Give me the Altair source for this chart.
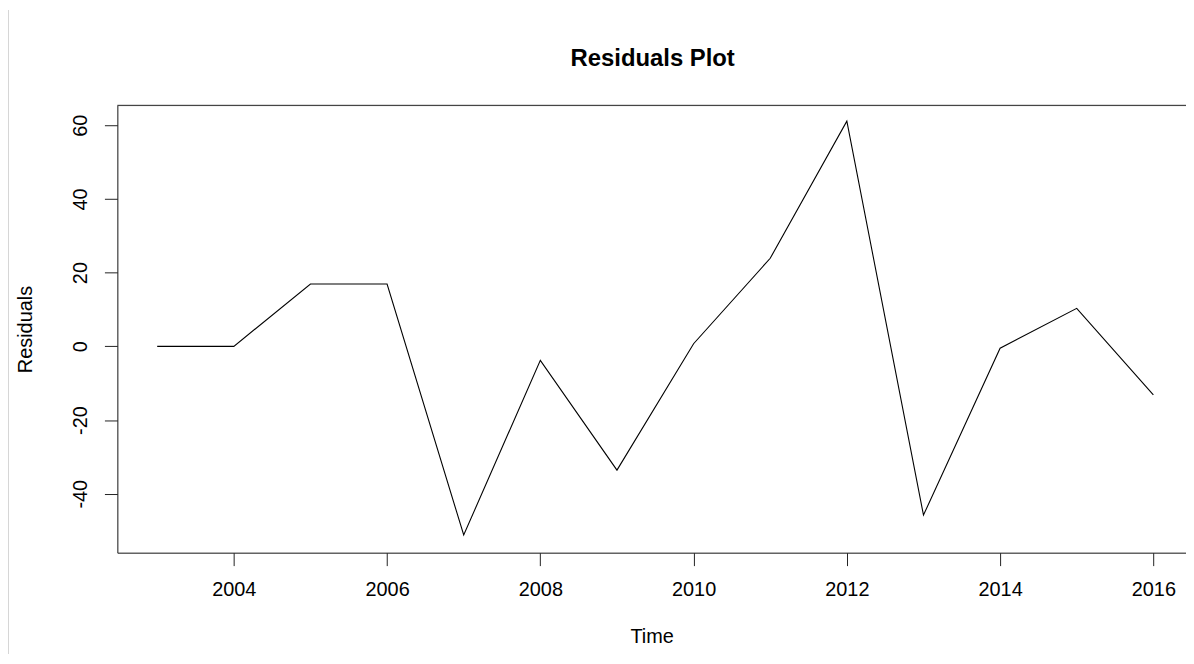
import altair as alt
import pandas as pd

years = [2003, 2004, 2005, 2006, 2007, 2008, 2009, 2010, 2011, 2012, 2013, 2014, 2015, 2016]
residuals = [0.0, 0.0, 16.9, 16.9, -51.2, -3.8, -33.6, 0.7, 23.9, 61.1, -45.8, -0.5, 10.3, -13.2]
x_ticks = [2004, 2006, 2008, 2010, 2012, 2014, 2016]
y_ticks = [-40, -20, 0, 20, 40, 60]
title_text = "Residuals Plot"

W, H = 1075, 450
FONT = "Liberation Sans"

df = pd.DataFrame({"Time": years, "Residuals": residuals})

line = alt.Chart(df).mark_line(color="black", strokeWidth=1.1, clip=True).encode(
    x=alt.X("Time:Q",
            scale=alt.Scale(domain=[2002.48, 2016.426], nice=False, zero=False),
            axis=alt.Axis(values=x_ticks, format="d", grid=False, tickSize=13,
                          tickColor="#222", domainColor="#222", tickWidth=1, domainWidth=1,
                          labelFont=FONT, labelFontSize=20, labelColor="black",
                          labelPadding=14, labelFlush=False,
                          title="Time", titleFont=FONT, titleFontSize=20,
                          titleFontWeight="normal", titleColor="black", titlePadding=27)),
    y=alt.Y("Residuals:Q",
            scale=alt.Scale(domain=[-56.0, 65.4], nice=False, zero=False),
            axis=alt.Axis(values=y_ticks, grid=False, tickSize=13,
                          labelExpr="'' + datum.value",
                          tickColor="#222", domainColor="#222", tickWidth=1, domainWidth=1,
                          labelFont=FONT, labelFontSize=20, labelColor="black",
                          labelAngle=270, labelAlign="center", labelBaseline="alphabetic",
                          labelPadding=18, labelFlush=False,
                          title="Residuals", titleFont=FONT, titleFontSize=20,
                          titleFontWeight="normal", titleColor="black",
                          titleBaseline="alphabetic", titlePadding=39)),
)

top_rule = alt.Chart(pd.DataFrame({"a": [0]})).mark_rule(color="#222", strokeWidth=1).encode(
    x=alt.value(0), x2=alt.value(W + 20), y=alt.value(0)
)

edge_rule = alt.Chart(pd.DataFrame({"a": [0]})).mark_rule(color="#c8c8c8", strokeWidth=1.5).encode(
    x=alt.value(-110), y=alt.value(-96), y2=alt.value(H + 110)
)

title = alt.Chart(pd.DataFrame({"t": [title_text]})).mark_text(
    font=FONT, fontSize=24, fontWeight="bold", color="black", align="center", baseline="middle"
).encode(text="t:N", x=alt.value(W / 2 + 1), y=alt.value(-47))

chart = alt.layer(edge_rule, top_rule, line, title).properties(
    width=W, height=H,
    autosize=alt.AutoSizeParams(type="none"),
    padding={"left": 110, "top": 96, "right": 0, "bottom": 100},
).configure_view(stroke=None).configure(background="white")

chart.save("out.html", embed_options={"renderer": "svg", "actions": False})
